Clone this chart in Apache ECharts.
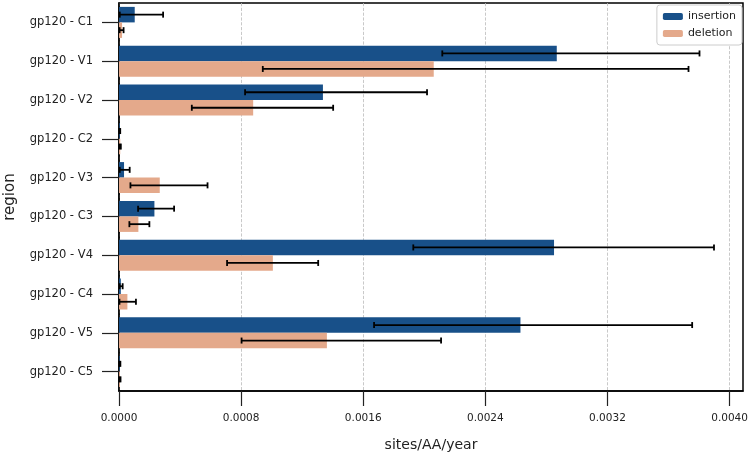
<!DOCTYPE html>
<html>
<head>
<meta charset="utf-8">
<script src="https://cdn.jsdelivr.net/npm/echarts@6/dist/echarts.min.js"></script>
<style>
  html, body { margin: 0; padding: 0; background: #fff; }
  #chart { width: 750px; height: 456px; }
</style>
</head>
<body>
<div id="chart"></div>
<script>
const regions = ['gp120 - C1', 'gp120 - V1', 'gp120 - V2', 'gp120 - C2', 'gp120 - V3',
                 'gp120 - C3', 'gp120 - V4', 'gp120 - C4', 'gp120 - V5', 'gp120 - C5'];

const insertion     = [0.000103, 0.002868, 0.001336, 0.000005, 0.000033, 0.000232, 0.002850, 0.000012, 0.002630, 0.000005];
const insertionLow  = [0.000005, 0.002118, 0.000826, 0.000002, 0.000005, 0.000125, 0.001928, 0.000004, 0.001671, 0.000002];
const insertionHigh = [0.000289, 0.003803, 0.002018, 0.000008, 0.000070, 0.000361, 0.003898, 0.000024, 0.003755, 0.000009];

const deletion      = [0.000020, 0.002062, 0.000879, 0.000008, 0.000267, 0.000127, 0.001008, 0.000055, 0.001362, 0.000006];
const deletionLow   = [0.000004, 0.000942, 0.000477, 0.000002, 0.000075, 0.000068, 0.000708, 0.000003, 0.000803, 0.000002];
const deletionHigh  = [0.000030, 0.003731, 0.001403, 0.000012, 0.000580, 0.000199, 0.001305, 0.000111, 0.002110, 0.000010];

const xTicks = [0, 0.0008, 0.0016, 0.0024, 0.0032, 0.0040];

const chart = echarts.init(document.getElementById('chart'));

// error bar drawn as a custom series, shifted to sit on its bar
function errorBars (low, high, shift) {
    return {
        type: 'custom',
        z: 10,
        silent: true,
        data: low.map((v, i) => [v, high[i], i]),
        renderItem (params, api) {
            const cat = api.value(2);
            const band = api.size([0, 1])[1];
            const p1 = api.coord([api.value(0), cat]);
            const p2 = api.coord([api.value(1), cat]);
            const y = p1[1] + shift * band;
            const cap = 3;
            const style = { stroke: '#000', lineWidth: 1.8 };
            return {
                type: 'group',
                children: [
                    { type: 'line', shape: { x1: p1[0], y1: y, x2: p2[0], y2: y }, style },
                    { type: 'line', shape: { x1: p1[0], y1: y - cap, x2: p1[0], y2: y + cap }, style },
                    { type: 'line', shape: { x1: p2[0], y1: y - cap, x2: p2[0], y2: y + cap }, style }
                ]
            };
        }
    };
}

const option = {
    animation: false,
    textStyle: { fontFamily: 'DejaVu Sans' },
    grid: {
        left: 119, right: 7, top: 3, bottom: 65,
        outerBoundsMode: 'none',
        containLabel: false,
        show: true, borderColor: '#000', borderWidth: 1.5
    },
    legend: {
        orient: 'vertical',
        right: 8, top: 5,
        itemWidth: 20, itemHeight: 7,
        itemGap: 6,
        padding: [6, 6, 6, 6],
        backgroundColor: '#fff',
        borderColor: '#ccc', borderWidth: 1, borderRadius: 3,
        textStyle: { fontSize: 11, color: '#222' },
        data: ['insertion', 'deletion']
    },
    xAxis: {
        type: 'value',
        min: 0, max: 0.004088, interval: 0.0008,
        name: 'sites/AA/year',
        nameLocation: 'middle',
        nameGap: 47,
        nameTextStyle: { fontSize: 14, color: '#222' },
        axisLine: { show: true, lineStyle: { color: '#000', width: 1.5 } },
        axisTick: { show: true, length: 15, lineStyle: { color: '#222', width: 1.2 } },
        axisLabel: {
            fontSize: 10.5, color: '#222', margin: 22, showMaxLabel: false,
            formatter: v => xTicks.some(t => Math.abs(t - v) < 1e-9) ? v.toFixed(4) : ''
        },
        splitLine: { show: true, showMaxLine: false, lineStyle: { color: '#bbb', type: 'dashed', width: 0.8 } }
    },
    yAxis: {
        type: 'category',
        data: regions,
        inverse: true,
        name: 'region',
        nameLocation: 'middle',
        nameGap: 101,
        nameTextStyle: { fontSize: 15, color: '#222' },
        axisLine: { show: true, lineStyle: { color: '#000', width: 1.5 } },
        axisTick: { show: true, alignWithLabel: true, length: 17, lineStyle: { color: '#222', width: 1.2 } },
        axisLabel: { fontSize: 11.5, color: '#222', margin: 26 }
    },
    series: [
        {
            name: 'insertion', type: 'bar',
            data: insertion,
            barWidth: '40%', barGap: '0%',
            itemStyle: { color: '#185089' }
        },
        {
            name: 'deletion', type: 'bar',
            data: deletion,
            barWidth: '40%', barGap: '0%',
            itemStyle: { color: '#e4a98b' }
        },
        errorBars(insertionLow, insertionHigh, -0.2),
        errorBars(deletionLow, deletionHigh, 0.2)
    ]
};

chart.setOption(option);
</script>
</body>
</html>
